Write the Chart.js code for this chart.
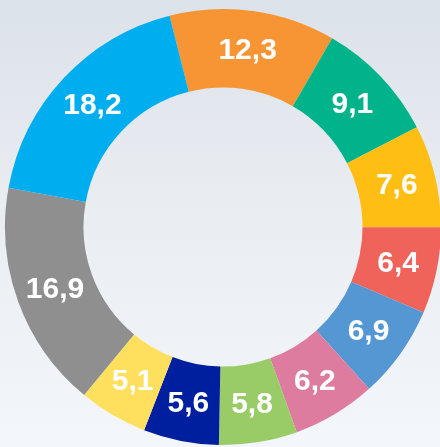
<!DOCTYPE html>
<html>
<head>
<meta charset="utf-8">
<script src="https://cdn.jsdelivr.net/npm/chart.js@4"></script>
<style>
  html, body { margin: 0; padding: 0; }
  body {
    width: 440px; height: 447px; overflow: hidden; position: relative;
    background: linear-gradient(to bottom, #dce2e9 0%, #e9edf2 45%, #f3f6fa 100%);
  }
  #wrap { position: absolute; left: 0; top: 0; width: 446px; height: 454px; }
</style>
</head>
<body>
<div id="wrap"><canvas id="chart"></canvas></div>
<script>
const labels = ['A', 'B', 'C', 'D', 'E', 'F', 'G', 'H', 'I', 'J', 'K'];
const values = [12.3, 9.1, 7.6, 6.4, 6.9, 6.2, 5.8, 5.6, 5.1, 16.9, 18.2];
const colors = ['#f79433', '#00b38b', '#ffbe14', '#f0635a', '#5497d3', '#de7ca0',
                '#99cc66', '#001f9e', '#ffe05e', '#8f8f8f', '#00aeef'];

// draws the value in the middle of each slice
const sliceLabels = {
  id: 'sliceLabels',
  afterDatasetsDraw(chart) {
    const ctx = chart.ctx;
    const meta = chart.getDatasetMeta(0);
    ctx.save();
    ctx.font = 'bold 30px "Liberation Sans", Arial, sans-serif';
    ctx.fillStyle = '#ffffff';
    ctx.textAlign = 'center';
    ctx.textBaseline = 'middle';
    meta.data.forEach(function (arc, i) {
      const p = arc.tooltipPosition();
      ctx.fillText(String(values[i]).replace('.', ','), p.x, p.y + 1);
    });
    ctx.restore();
  }
};

new Chart(document.getElementById('chart').getContext('2d'), {
  type: 'doughnut',
  data: {
    labels: labels,
    datasets: [{
      data: values,
      backgroundColor: colors,
      borderWidth: 0,
      hoverOffset: 0
    }]
  },
  options: {
    responsive: true,
    maintainAspectRatio: false,
    animation: false,
    cutout: '64%',
    rotation: -14.2,
    layout: { padding: 5 },
    plugins: {
      legend: { display: false },
      tooltip: { enabled: false }
    }
  },
  plugins: [sliceLabels]
});
</script>
</body>
</html>
